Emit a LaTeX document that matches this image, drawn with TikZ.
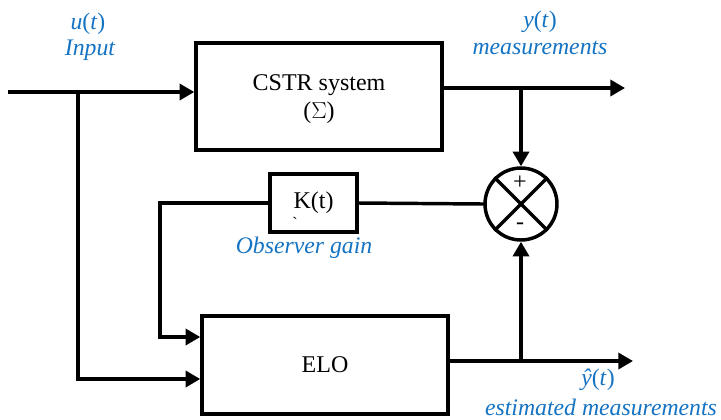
\documentclass[tikz,border=0pt]{standalone}
\usepackage{fontspec}
\setmainfont{Liberation Serif}
\usetikzlibrary{arrows.meta}
\definecolor{lblblue}{RGB}{20,115,195}
\begin{document}
\begin{tikzpicture}[x=0.75pt,y=-0.75pt,
  wire/.style={line width=2.6pt,line cap=rect},
  arr/.style={wire,-{Triangle[length=11pt,width=12pt]}},
  blockbox/.style={draw,line width=2.6pt,rectangle,inner sep=0pt,font=\fontsize{18}{22}\selectfont,align=center},
  lbl/.style={text=lblblue,font=\fontsize{17.8}{20}\selectfont\itshape,inner sep=0pt},
  sgn/.style={font=\fontsize{18}{18}\selectfont,inner sep=0pt}]
\useasboundingbox (0,0) rectangle (721,419);
% blocks
\node[blockbox,minimum width=184.5pt,minimum height=80.25pt] (cstr) at (319,96.5) {};
\node[font=\fontsize{18}{22}\selectfont] (cstrtxt) at (319,85) {CSTR system};
\node[font=\fontsize{18}{22}\selectfont] (sigma) at (319,113) {($\Sigma$)};
\node[blockbox,minimum width=184.5pt,minimum height=73.5pt] (elo) at (325,365) {ELO};
\node[blockbox,minimum width=65.25pt,minimum height=43.5pt] (k) at (313.5,203) {K(t)};
\node[font=\fontsize{12}{12}\selectfont,inner sep=0pt] (tick) at (295,223) {\textasciigrave};
\node[draw,circle,line width=2.6pt,minimum size=54pt,inner sep=0pt] (sum) at (521,204) {};
\draw[wire,line cap=butt] (sum.north west) -- (sum.south east);
\draw[wire,line cap=butt] (sum.north east) -- (sum.south west);
\node[sgn] (plus) at (520,183) {+};
\node[sgn] (minus) at (520,226) {-};
% coordinates
\coordinate (in) at (10,92);
\coordinate (inb) at (78,92);
\coordinate (yout) at (625,88);
\coordinate (yb) at (521,88);
\coordinate (yhout) at (633,361);
\coordinate (yhb) at (521,361);
\coordinate (fbc) at (160,203);
\coordinate (eloin1) at (78,379);
\coordinate (eloin2) at (160,337);
% connectors
\draw[arr] (in) -- (in -| cstr.west);
\draw[wire] (inb) -- (eloin1);
\draw[arr] (eloin1) -- (eloin1 -| elo.west);
\draw[arr] (yout -| cstr.east) -- (yout);
\draw[arr] (yb) -- (sum.north);
\draw[arr] (yhout -| elo.east) -- (yhout);
\draw[arr] (yhb) -- (sum.south);
\draw[wire] (sum.west) -- (k.east);
\draw[wire] (k.west) -- (fbc) -- (eloin2);
\draw[arr] (eloin2) -- (eloin2 -| elo.west);
% labels
\node[lbl] (ut) at (88,24) {\textit{u}\textup{(}\textit{t}\textup{)}};
\node[lbl] (inp) at (90,50) {Input};
\node[lbl] (yt) at (540,22) {\textit{y}\textup{(}\textit{t}\textup{)}};
\node[lbl] (meas) at (540,48) {measurements};
\node[lbl] (og) at (304,248) {Observer gain};
\node[lbl] (yht) at (598,380) {\textit{ŷ}\textup{(}\textit{t}\textup{)}};
\node[lbl] (est) at (601,407) {estimated measurements};
\end{tikzpicture}
\end{document}
